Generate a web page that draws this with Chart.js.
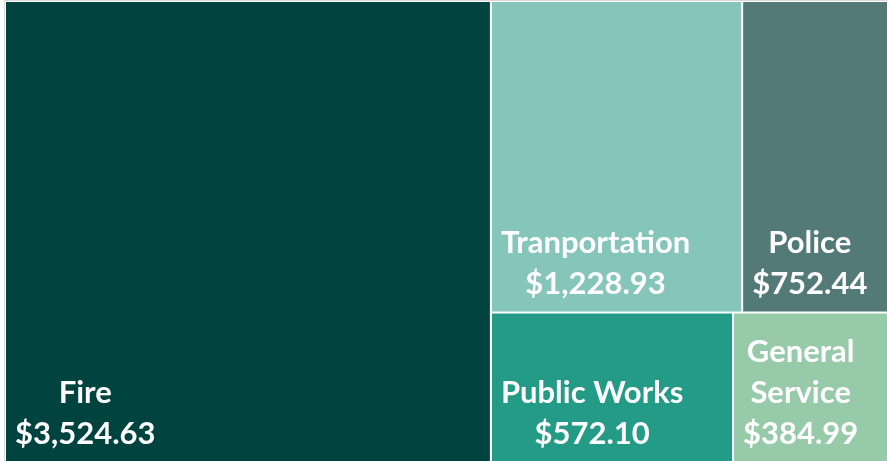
<!DOCTYPE html>
<html>
<head>
<meta charset="utf-8">
<style>
  html, body { margin: 0; padding: 0; background: #fff; }
  canvas { display: block; }
</style>
</head>
<body>
<canvas id="treemap" width="887" height="461"></canvas>
<script src="https://cdn.jsdelivr.net/npm/chart.js@4/dist/chart.umd.min.js"></script>
<script>
const categories = ['Fire', 'Tranportation', 'Police', 'Public Works', 'General Service']
const labelLines = [['Fire'], ['Tranportation'], ['Police'], ['Public Works'], ['General', 'Service']]
const values = [3524.63, 1228.93, 752.44, 572.10, 384.99]
const colors = ['#01433F', '#86C5BA', '#537A77', '#239B87', '#97CAA9']

// layout area in scale units (wider than the visible part, it is cut off right and bottom)
const areaW = 891
const areaH = 462

function worst(row, side) {
   const sum = row.reduce((a, b) => a + b, 0)
   const max = Math.max(...row)
   const min = Math.min(...row)
   return Math.max(side * side * max / (sum * sum), (sum * sum) / (side * side * min))
}

function squarify(vals, x, y, w, h) {
   const total = vals.reduce((a, b) => a + b, 0)
   const areas = vals.map(v => v * w * h / total)
   const rects = []
   let i = 0
   while (i < areas.length) {
      const side = Math.min(w, h)
      let row = [areas[i]]
      let j = i + 1
      while (j < areas.length) {
         const next = row.concat(areas[j])
         if (worst(next, side) > worst(row, side)) break
         row = next
         j++
      }
      const sum = row.reduce((a, b) => a + b, 0)
      if (w >= h) {
         const cw = sum / h
         let cy = y
         row.forEach(a => {
            const rh = a / cw
            rects.push({ x0: x, y0: cy, x1: x + cw, y1: cy + rh })
            cy += rh
         })
         x += cw
         w -= cw
      } else {
         const rh = sum / w
         let cx = x
         row.forEach(a => {
            const rw = a / rh
            rects.push({ x0: cx, y0: y, x1: cx + rw, y1: y + rh })
            cx += rw
         })
         y += rh
         h -= rh
      }
      i = j
   }
   return rects
}

const cells = squarify(values, 0, 0, areaW, areaH).map((r, i) => ({
   x: (r.x0 + r.x1) / 2,
   y: (r.y0 + r.y1) / 2,
   rect: r,
   label: labelLines[i],
   value: values[i],
   color: colors[i]
}))

function money(v) {
   return '$' + v.toLocaleString('en-US', { minimumFractionDigits: 2, maximumFractionDigits: 2 })
}

const treemapPlugin = {
   id: 'treemap',
   afterDatasetsDraw(chart) {
      const ctx = chart.ctx
      const xs = chart.scales.x
      const ys = chart.scales.y
      ctx.save()
      // light frame
      ctx.strokeStyle = '#d9d9d9'
      ctx.lineWidth = 1
      ctx.beginPath()
      ctx.moveTo(chart.chartArea.left - 0.5, chart.height)
      ctx.lineTo(chart.chartArea.left - 0.5, 0.5)
      ctx.lineTo(chart.width, 0.5)
      ctx.stroke()

      chart.data.datasets[0].data.forEach(c => {
         const left = xs.getPixelForValue(c.rect.x0)
         const right = xs.getPixelForValue(c.rect.x1)
         const top = ys.getPixelForValue(c.rect.y0)
         const bottom = ys.getPixelForValue(c.rect.y1)
         ctx.fillStyle = c.color
         ctx.fillRect(left + 1, top + 1, right - left - 2, bottom - top - 2)

         const lines = c.label.concat(money(c.value))
         ctx.font = 'bold 31px Lato, "Open Sans", sans-serif'
         ctx.fillStyle = '#ffffff'
         ctx.textBaseline = 'middle'
         ctx.textAlign = 'center'
         const blockW = Math.max(...lines.map(l => ctx.measureText(l).width))
         const cx = left + 10 + blockW / 2
         const lineH = 41
         let ly = bottom - 29 - (lines.length - 1) * lineH
         lines.forEach(l => {
            ctx.fillText(l, cx, ly)
            ly += lineH
         })
      })
      ctx.restore()
   }
}

new Chart(document.getElementById('treemap'), {
   type: 'scatter',
   data: {
      labels: categories,
      datasets: [
         {
            data: cells,
            pointRadius: 0,
            pointHoverRadius: 0
         }
      ]
   },
   options: {
      responsive: false,
      animation: false,
      layout: {
         padding: { left: 5, top: 1, right: 0, bottom: 0 }
      },
      scales: {
         x: { type: 'linear', display: false, min: 0, max: 882 },
         y: { type: 'linear', display: false, min: 0, max: 460, reverse: true }
      },
      plugins: {
         legend: { display: false },
         tooltip: { enabled: false }
      }
   },
   plugins: [treemapPlugin]
})
</script>
</body>
</html>
